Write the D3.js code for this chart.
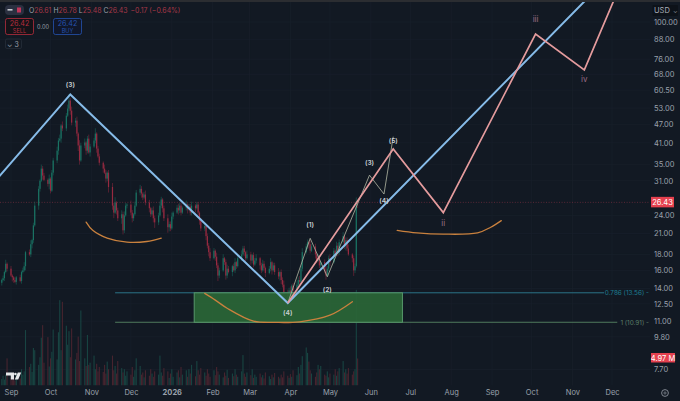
<!DOCTYPE html>
<html>
<head>
	<meta charset="utf-8">
	<title>Elliott wave chart</title>
	<style type="text/css">
		html, body { margin: 0; padding: 0; background: #121923; overflow: hidden; }
		svg { display: block; font-family: 'Inter', 'Roboto', sans-serif; }
		.tick text { fill: #9aa1ac; }
	</style>
	<script src="https://d3js.org/d3.v7.min.js"></script>
</head>
<body>
	<svg width="680" height="401"></svg>
	<script type="text/javascript">
		// daily closes from 25 Aug 2025, weekdays only
		var closes = [
			14.9,15.1,15.8,16.8,16.2,15.4,15.2,14.9,14.7,15.2,
			14.8,15.8,16.0,16.5,18.3,18.0,19.4,20.0,22.3,25.8,
			29.2,31.0,33.9,32.2,31.2,30.3,31.5,28.8,32.9,36.0,
			38.7,41.7,42.3,46.6,45.6,50.1,52.8,56.0,52.0,47.6,
			48.3,43.9,40.2,36.0,40.2,41.1,38.7,42.3,38.2,39.9,
			41.7,43.9,39.3,37.1,35.4,33.9,32.9,31.5,32.9,29.6,
			25.8,24.5,26.4,24.9,23.5,24.2,21.5,24.0,25.8,26.0,
			24.5,23.5,24.2,25.8,28.4,29.2,28.2,27.4,28.0,26.4,
			25.3,24.2,24.9,23.5,22.8,24.0,25.8,27.0,25.3,23.5,
			22.0,22.5,21.8,23.8,24.5,25.4,24.9,25.8,24.5,25.4,
			26.0,25.1,25.6,24.5,25.8,25.3,26.0,24.5,23.1,21.8,
			22.2,20.6,19.2,18.3,17.5,18.5,17.7,16.6,15.4,16.0,
			17.5,17.0,15.4,16.2,15.8,16.5,16.0,17.0,16.5,17.5,
			18.0,18.8,18.3,17.5,18.0,17.2,17.9,16.7,17.2,17.5,
			16.6,16.0,16.8,16.3,15.7,16.2,17.0,16.0,16.6,15.8,
			15.3,15.8,14.9,14.4,13.6,13.1,13.8,13.4,14.3,13.8,
			14.4,14.9,14.7,16.2,18.3,19.1,19.7,19.4,18.5,19.1,
			18.0,17.2,17.5,16.6,17.0,16.0,15.4,16.2,17.5,17.0,
			18.5,18.0,19.2,18.3,19.7,20.6,19.1,20.0,18.8,18.0,
			17.5,16.0,16.5,26.61,26.43];
		// wick lengths, percent of price above / below the body
		var wickUp = [
			1,2,1,3,1,2,1,1,2,1,
			2,1,2,3,1,2,3,1,2,3,
			2,1,3,2,2,1,3,1,2,2,
			3,2,3,1,3,2,3,5,2,3,
			2,3,1,4,2,3,1,2,3,2,
			2,4,1,2,2,1,3,2,1,2,
			3,2,4,1,2,3,2,3,2,1,
			3,2,1,3,2,3,2,1,2,3,
			2,1,2,3,2,2,3,2,1,2,
			3,2,2,3,1,2,3,2,2,1,
			3,1,2,2,3,1,2,2,1,2,
			3,1,2,2,3,2,1,3,2,2,
			3,1,2,3,2,1,2,3,1,2,
			3,2,2,1,3,2,1,2,2,3,
			1,2,3,2,1,2,3,1,2,2,
			3,1,2,2,3,2,2,3,1,2,
			3,2,3,2,3,2,2,1,3,2,
			2,1,3,2,1,2,3,2,2,3,
			2,1,3,2,2,3,1,2,2,3,
			1,2,2,3,1];
		var wickDown = [
			2,1,2,1,2,1,3,2,1,2,
			1,2,1,1,3,1,2,3,2,1,
			3,2,1,3,1,2,4,2,1,2,
			2,3,1,3,2,2,1,2,3,2,
			3,2,4,3,1,2,3,2,1,3,
			1,2,3,1,2,3,1,3,2,4,
			3,4,1,3,2,4,3,2,1,2,
			2,3,2,1,1,2,3,2,1,2,
			3,2,1,3,4,2,1,2,3,2,
			4,3,2,1,2,1,3,2,2,1,
			2,3,1,2,2,3,1,2,3,2,
			2,3,2,3,2,1,3,2,4,2,
			1,2,3,2,1,3,1,2,2,1,
			2,1,3,2,1,3,2,2,1,2,
			3,2,1,2,3,1,2,3,1,2,
			2,3,3,2,4,3,2,3,2,1,
			2,1,3,1,2,1,2,3,2,1,
			3,2,1,2,3,2,3,1,2,3,
			1,2,1,3,2,1,2,3,2,1,
			3,4,2,1,4];
		// volume in millions
		var volumes = [
			1.2,1.8,1.1,2.0,5.0,1.4,1.0,1.6,0.9,2.2,
			1.3,3.0,2.0,2.6,10.2,3.4,4.0,2.5,6.9,6.5,
			3.8,5.2,8.8,11.1,4.2,8.9,3.5,5.0,6.2,10.3,
			4.8,9.8,15.7,6.5,15.4,11.0,7.5,10.0,5.2,10.5,
			4.8,6.0,9.0,4.5,13.8,5.0,3.6,9.3,3.8,4.2,
			5.5,3.0,4.0,2.6,3.4,2.5,3.8,2.2,4.4,3.0,
			5.5,2.8,3.6,2.2,4.5,3.2,2.4,3.0,1.8,2.6,
			2.0,3.4,1.6,2.8,5.0,3.6,2.0,2.4,1.5,2.8,
			1.8,3.0,2.2,1.6,2.6,2.0,5.5,2.4,1.8,3.2,
			2.6,1.4,2.2,3.0,1.6,2.4,2.8,1.5,3.4,2.0,
			2.8,1.6,3.0,2.2,3.8,1.7,4.5,2.8,2.0,3.2,
			2.4,1.8,3.0,2.2,1.6,2.8,1.9,3.4,2.6,2.0,
			1.5,2.4,1.8,2.9,1.4,2.2,1.7,3.0,2.0,1.6,
			2.6,5.6,2.2,1.6,2.4,1.9,3.0,1.4,2.0,1.6,
			2.2,1.5,1.9,1.3,2.4,1.7,1.2,2.0,1.5,2.3,
			1.6,1.3,2.0,1.5,2.6,1.8,1.4,2.1,1.6,2.8,
			1.9,3.4,2.2,3.8,5.4,7.0,6.0,4.4,2.8,2.2,
			1.6,2.4,3.8,3.0,3.6,2.0,1.8,2.6,1.5,2.2,
			2.0,3.0,1.8,2.6,3.2,4.5,2.4,3.0,2.2,3.2,
			2.0,2.6,3.0,17.6,4.97];

		var priceTicks = [100, 88, 76, 68, 60.5, 53, 47, 41, 35, 31, 24, 21, 18, 16, 14, 12.5, 11, 9.8, 7.7];
		var monthTicks = ['2025-09-01','2025-10-01','2025-11-01','2025-12-01','2026-01-01','2026-02-01','2026-03-01','2026-04-01','2026-05-01','2026-06-01','2026-07-01','2026-08-01','2026-09-01','2026-10-01','2026-11-01','2026-12-01'];
		var monthLabels = ['Sep','Oct','Nov','Dec','2026','Feb','Mar','Apr','May','Jun','Jul','Aug','Sep','Oct','Nov','Dec'];

		// drawn lines, dates and prices
		var cycleDates = ['2025-08-23','2025-10-16','2026-03-30','2026-11-14'];
		var cyclePrices = [32.0, 58.6, 12.57, 121];
		var impulseDates = ['2026-03-30','2026-06-18','2026-07-26','2026-10-04','2026-11-10','2026-12-04'];
		var impulsePrices = [12.57, 39.2, 24.5, 91.5, 70.2, 121.7];
		var subDates = ['2026-03-30','2026-04-16','2026-04-29','2026-05-31','2026-06-11','2026-06-18'];
		var subPrices = [12.57, 20.27, 15.26, 32.3, 28.1, 42.9];

		var arcDatesA = ['2025-10-28','2025-11-02','2025-11-13','2025-11-28','2025-12-13','2025-12-24'];
		var arcPricesA = [22.85, 21.5, 20.3, 19.7, 19.8, 20.3];
		var arcDatesB = ['2026-01-26','2026-02-03','2026-02-12','2026-03-04','2026-03-21','2026-04-08','2026-05-01','2026-05-18'];
		var arcPricesB = [13.5, 12.85, 12.1, 11.0, 10.9, 10.95, 11.5, 12.7];
		var arcDatesC = ['2026-06-21','2026-07-06','2026-07-26','2026-08-21','2026-08-31','2026-09-08'];
		var arcPricesC = [21.5, 21.1, 20.9, 21.1, 22.0, 23.1];

		var fibLevels = [13.56, 10.91];
		var fibNames = ['0.786 (13.56)', '1 (10.91)'];
		var fibStart = '2025-11-19', fibBoxStart = '2026-01-18', fibBoxEnd = '2026-06-25';
		var fibEnds = ['2026-11-25', '2026-12-05'];

		var waveNames = ['(3)','(1)','(2)','(3)','(4)','(5)','(4)','ii','iii','iv'];
		var waveDates = ['2025-10-16','2026-04-16','2026-04-29','2026-05-31','2026-06-11','2026-06-18','2026-03-30','2026-07-26','2026-10-04','2026-11-10'];
		var wavePrices = [62.0, 22.0, 13.6, 34.9, 26.4, 41.0, 11.55, 22.2, 100, 64.3];

		var lastPrice = 26.43, lastVolume = 4.97;

		var svg = d3.select('svg');
		var parseDay = d3.utcParse('%Y-%m-%d');

		var x = d3.scaleUtc().domain([parseDay('2025-09-01'), parseDay('2026-12-01')]).range([11, 612]);
		var y = d3.scaleLog().domain([100, 7.7]).range([22, 369.5]);
		var yVol = d3.scaleLinear().domain([0, 20]).range([385.5, 276.8]);

		// weekdays for the candles
		var barDates = [];
		var day = parseDay('2025-08-25');
		while (barDates.length < closes.length) {
			if (day.getUTCDay() != 0 && day.getUTCDay() != 6) barDates.push(day);
			day = d3.utcDay.offset(day, 1);
		}

		var defs = svg.append('defs');
		defs.append('clipPath').attr('id', 'plot').append('rect')
			.attr('x', 0).attr('y', 2).attr('width', 650).attr('height', 383.5);

		svg.append('rect').attr('width', 680).attr('height', 2).attr('fill', '#2b2d31');

		// grid
		var grid = svg.append('g').attr('stroke', '#18202b').attr('stroke-width', 0.7);
		grid.selectAll('.gy').data(priceTicks).enter().append('line')
			.attr('x1', 0).attr('x2', 650)
			.attr('y1', d => y(d)).attr('y2', d => y(d));
		grid.selectAll('.gx').data(monthTicks).enter().append('line')
			.attr('y1', 2).attr('y2', 385.5)
			.attr('x1', d => x(parseDay(d))).attr('x2', d => x(parseDay(d)));

		var plot = svg.append('g').attr('clip-path', 'url(#plot)');

		// volume
		plot.selectAll('.vol').data(volumes).enter().append('rect')
			.attr('x', (d, i) => x(barDates[i]) - 0.55)
			.attr('width', 1.1)
			.attr('y', d => yVol(d))
			.attr('height', d => yVol(0) - yVol(d))
			.attr('fill', (d, i) => closes[i] >= (i ? closes[i - 1] : closes[i]) ? '#184442' : '#47242f');

		// last price line
		plot.append('line')
			.attr('x1', 0).attr('x2', 650)
			.attr('y1', y(lastPrice)).attr('y2', y(lastPrice))
			.attr('stroke', '#6d2c3c').attr('stroke-width', 0.8)
			.attr('stroke-dasharray', '1,1.6');

		// candles
		var bars = plot.selectAll('.bar').data(closes).enter().append('g');
		var openOf = i => i ? closes[i - 1] : 14.6;
		var barColor = (d, i) => d >= openOf(i) ? '#1a7263' : '#962a40';
		bars.append('line')
			.attr('x1', (d, i) => x(barDates[i])).attr('x2', (d, i) => x(barDates[i]))
			.attr('y1', (d, i) => y(Math.max(d, openOf(i)) * (1 + wickUp[i] / 100)))
			.attr('y2', (d, i) => y(Math.min(d, openOf(i)) * (1 - wickDown[i] / 100)))
			.attr('stroke', barColor).attr('stroke-width', 0.5);
		bars.append('rect')
			.attr('x', (d, i) => x(barDates[i]) - 0.6)
			.attr('width', 1.2)
			.attr('y', (d, i) => y(Math.max(d, openOf(i))))
			.attr('height', (d, i) => Math.max(0.6, y(Math.min(d, openOf(i))) - y(Math.max(d, openOf(i)))))
			.attr('fill', barColor);

		// fib levels
		var fibColors = ['#2b7488', '#4f7a5c'];
		fibLevels.forEach((d, i) => {
			plot.append('line')
				.attr('x1', x(parseDay(fibStart))).attr('x2', x(parseDay(fibEnds[i])))
				.attr('y1', y(d)).attr('y2', y(d))
				.attr('stroke', fibColors[i]).attr('stroke-width', 1);
			svg.append('text')
				.attr('x', 649).attr('y', y(d) + 2.5)
				.attr('text-anchor', 'end').attr('font-size', 6.4)
				.attr('fill', i ? '#5c7f68' : '#1d7e92')
				.text(fibNames[i] + ' -');
		});
		plot.append('rect')
			.attr('x', x(parseDay(fibBoxStart)))
			.attr('width', x(parseDay(fibBoxEnd)) - x(parseDay(fibBoxStart)))
			.attr('y', y(fibLevels[0]))
			.attr('height', y(fibLevels[1]) - y(fibLevels[0]))
			.attr('fill', '#2a6437').attr('fill-opacity', 0.95)
			.attr('stroke', '#57976b').attr('stroke-width', 1);

		// arcs and wave lines
		var lineGenerator = d3.line()
			.x(d => x(parseDay(d[0])))
			.y(d => y(d[1]));
		var arcLine = d3.line()
			.x(d => x(parseDay(d[0])))
			.y(d => y(d[1]))
			.curve(d3.curveCatmullRom);

		[[arcDatesA, arcPricesA], [arcDatesB, arcPricesB], [arcDatesC, arcPricesC]].forEach(a => {
			plot.append('path')
				.attr('d', arcLine(d3.zip(a[0], a[1])))
				.attr('fill', 'none').attr('stroke', '#c9813e')
				.attr('stroke-width', 1.3).attr('stroke-linecap', 'round');
		});
		plot.append('path')
			.attr('d', lineGenerator(d3.zip(cycleDates, cyclePrices)))
			.attr('fill', 'none').attr('stroke', '#86bbe8').attr('stroke-width', 2);
		plot.append('path')
			.attr('d', lineGenerator(d3.zip(subDates, subPrices)))
			.attr('fill', 'none').attr('stroke', '#b4b9a4').attr('stroke-width', 0.8);
		plot.append('path')
			.attr('d', lineGenerator(d3.zip(impulseDates, impulsePrices)))
			.attr('fill', 'none').attr('stroke', '#e49b9d').attr('stroke-width', 1.7);

		svg.selectAll('.wave').data(waveNames).enter().append('text')
			.attr('x', (d, i) => x(parseDay(waveDates[i])))
			.attr('y', (d, i) => y(wavePrices[i]))
			.attr('text-anchor', 'middle')
			.attr('font-size', d => d[0] == '(' ? 6.6 : 8)
			.attr('font-weight', d => d[0] == '(' ? 600 : 400)
			.attr('fill', d => d[0] == '(' ? '#ccd2d6' : '#9c6d86')
			.text(d => d);

		// axes
		var xAxis = d3.axisBottom(x)
			.tickValues(monthTicks.map(parseDay))
			.tickSize(0).tickPadding(0)
			.tickFormat((d, i) => monthLabels[i]);
		var gx = svg.append('g').attr('transform', 'translate(0,390)').call(xAxis);
		gx.select('.domain').remove();
		gx.selectAll('text').attr('font-family', 'Inter').attr('font-size', 7.5)
			.attr('font-weight', (d, i) => monthLabels[i] == '2026' ? 700 : 400);

		var yAxis = d3.axisRight(y)
			.tickValues(priceTicks)
			.tickSize(0).tickPadding(0)
			.tickFormat(d3.format('.2f'));
		var gy = svg.append('g').attr('transform', 'translate(654,0)').call(yAxis);
		gy.select('.domain').remove();
		gy.selectAll('text').attr('font-family', 'Inter').attr('font-size', 7.5);

		// price and volume tags
		svg.append('rect').attr('x', 651).attr('y', y(lastPrice) - 5.5).attr('width', 23).attr('height', 10.5).attr('fill', '#e5414f');
		svg.append('text').attr('x', 662.5).attr('y', y(lastPrice) + 2.6).attr('text-anchor', 'middle')
			.attr('font-size', 7.5).attr('fill', '#fff').text(lastPrice.toFixed(2));
		svg.append('rect').attr('x', 651).attr('y', 353).attr('width', 24).attr('height', 9.5).attr('fill', '#e5414f');
		svg.append('text').attr('x', 663).attr('y', 360.5).attr('text-anchor', 'middle')
			.attr('font-size', 7.5).attr('fill', '#fff').text(lastVolume.toFixed(2) + ' M');
		svg.append('rect').attr('x', 652.5).attr('y', 5).attr('width', 25.5).attr('height', 11).attr('fill', '#0d1219').attr('rx', 1);
		svg.append('text').attr('x', 654).attr('y', 13).attr('font-size', 7.5).attr('fill', '#aab0ba').text('USD');
		svg.append('text').attr('x', 673).attr('y', 13).attr('font-size', 6).attr('fill', '#8a909a').text('⌄');

		// settings icon
		svg.append('circle').attr('cx', 665).attr('cy', 393).attr('r', 3.4).attr('fill', 'none').attr('stroke', '#8a909a').attr('stroke-width', 0.9);
		svg.append('circle').attr('cx', 665).attr('cy', 393).attr('r', 1.1).attr('fill', 'none').attr('stroke', '#8a909a').attr('stroke-width', 0.7);

		// legend header
		var head = svg.append('g');
		head.append('rect').attr('x', 5).attr('y', 5).attr('width', 19).attr('height', 10).attr('rx', 4).attr('fill', '#2a3040');
		head.append('rect').attr('x', 7.5).attr('y', 9).attr('width', 5).attr('height', 1.6).attr('fill', '#c6cad0');
		head.append('rect').attr('x', 17).attr('y', 7.5).attr('width', 4).attr('height', 5).attr('fill', '#c0355a');

		var ohlcLabels = ['O', 'H', 'L', 'C'];
		var ohlcValues = ['26.61', '26.78', '25.48', '26.43'];
		var ohlc = head.append('text').attr('x', 29).attr('y', 13).attr('font-size', 6.9);
		ohlcLabels.forEach((d, i) => {
			ohlc.append('tspan').attr('fill', '#9aa1ac').attr('dx', i ? 2 : 0).text(d);
			ohlc.append('tspan').attr('fill', '#a83848').text(ohlcValues[i]);
		});
		ohlc.append('tspan').attr('fill', '#a83848').attr('dx', 3).text('−0.17 (−0.64%)');

		function tradeBox(bx, price, word, col, dim) {
			head.append('rect').attr('x', bx).attr('y', 18.5).attr('width', 28).attr('height', 16)
				.attr('rx', 2).attr('fill', dim).attr('stroke', col).attr('stroke-width', 0.8);
			head.append('text').attr('x', bx + 14).attr('y', 25.5).attr('text-anchor', 'middle')
				.attr('font-size', 7.2).attr('fill', col).text(price);
			head.append('text').attr('x', bx + 14).attr('y', 32.5).attr('text-anchor', 'middle')
				.attr('font-size', 5.6).attr('fill', col).text(word);
		}
		tradeBox(5.5, '26.42', 'SELL', '#b52d3e', '#151318');
		tradeBox(53.5, '26.42', 'BUY', '#2553b0', '#10172a');
		head.append('text').attr('x', 43).attr('y', 29).attr('text-anchor', 'middle')
			.attr('font-size', 5.6).attr('fill', '#9aa1ac').text('0.00');
		head.append('rect').attr('x', 5.5).attr('y', 39).attr('width', 16).attr('height', 9.5)
			.attr('rx', 1.5).attr('fill', 'none').attr('stroke', '#262d38').attr('stroke-width', 0.8);
		head.append('text').attr('x', 13).attr('y', 46.5).attr('text-anchor', 'middle')
			.attr('font-size', 7).attr('fill', '#9aa1ac').text('⌄ 3');

		// tv logo
		svg.append('path')
			.attr('d', 'M6 372.5h8v7h-3.2v-4H6z M14.8 379.5l3-7h3.4l-3 7z')
			.attr('fill', '#e6e8ea');
		svg.append('circle').attr('cx', 15.4).attr('cy', 374).attr('r', 1.3).attr('fill', '#e6e8ea');
	</script>
</body>
</html>
